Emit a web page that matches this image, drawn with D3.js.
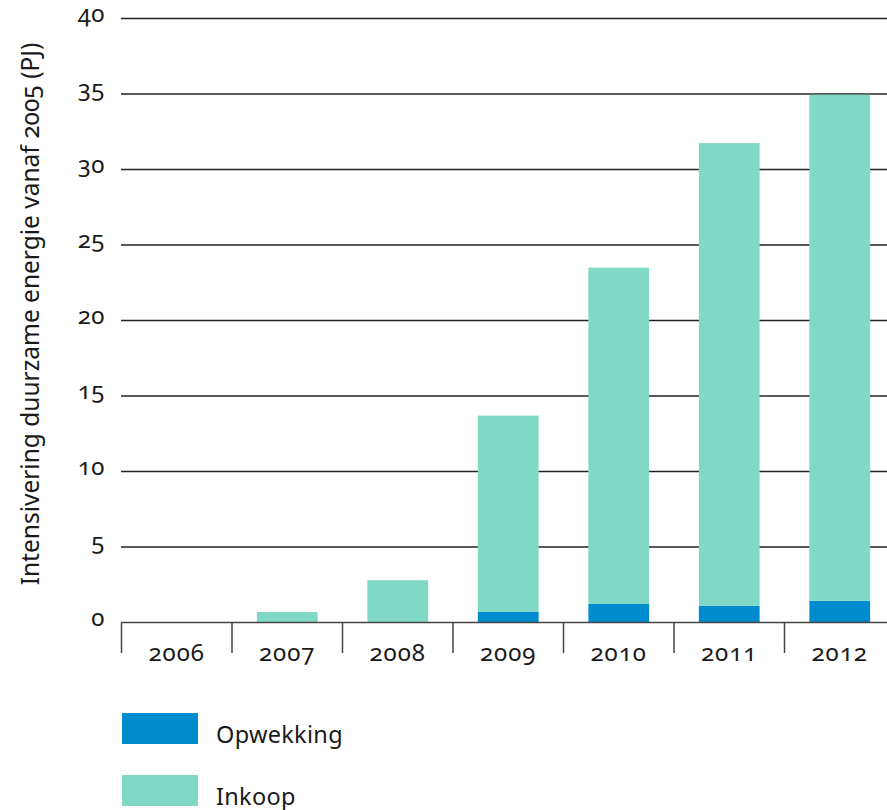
<!DOCTYPE html>
<html>
<head>
<meta charset="utf-8">
<script src="https://cdn.jsdelivr.net/npm/d3@7"></script>
<style>
    body { margin: 0; background: #fff; }
    svg text { font-family: "Noto Sans", "Open Sans", sans-serif; fill: #1a1a1a; font-feature-settings: "onum" 1; }
</style>
</head>
<body>
<svg width="887" height="810"></svg>
<script>
var years = ['2006', '2007', '2008', '2009', '2010', '2011', '2012'];
var opwekking = [0, 0, 0, 0.7, 1.23, 1.1, 1.43];
var inkoop = [0, 0.7, 2.8, 13.0, 22.27, 30.65, 33.52];
var yTicks = [0, 5, 10, 15, 20, 25, 30, 35, 40];
var seriesNames = ['Opwekking', 'Inkoop'];
var colors = ['#008bcf', '#80d9c5'];

(function() {
    var svg = d3.select('svg');

    var x = d3.scaleBand()
        .domain(years)
        .range([121.5, 895])
        .paddingInner(0.45)
        .paddingOuter(0.225);

    var y = d3.scaleLinear()
        .domain([0, 40])
        .range([622.5, 18.5]);

    // grid lines
    svg.append('g')
        .selectAll('line')
        .data(yTicks.filter(function(d) { return d > 0; }))
        .enter()
        .append('line')
        .attr('x1', 121)
        .attr('x2', 887)
        .attr('y1', function(d) { return y(d); })
        .attr('y2', function(d) { return y(d); })
        .attr('stroke', '#222')
        .attr('stroke-width', 1.3);

    // y labels
    svg.append('g')
        .selectAll('text')
        .data(yTicks)
        .enter()
        .append('text')
        .attr('x', 105)
        .attr('y', function(d) { return y(d) + 3; })
        .attr('text-anchor', 'end')
        .style('font-size', '24px')
        .style('letter-spacing', '0.5px')
        .text(function(d) { return d; });

    // stacked bars
    var rows = years.map(function(yr, i) {
        return { year: yr, Opwekking: opwekking[i], Inkoop: inkoop[i] };
    });
    var stack = d3.stack().keys(seriesNames)(rows);

    svg.append('g')
        .selectAll('g')
        .data(stack)
        .enter()
        .append('g')
        .attr('fill', function(d, i) { return colors[i]; })
        .selectAll('rect')
        .data(function(d) { return d; })
        .enter()
        .append('rect')
        .attr('x', function(d) { return x(d.data.year); })
        .attr('width', x.bandwidth())
        .attr('y', function(d) { return y(d[1]); })
        .attr('height', function(d) { return y(d[0]) - y(d[1]); });

    // baseline and separators
    svg.append('line')
        .attr('x1', 121).attr('x2', 887)
        .attr('y1', y(0)).attr('y2', y(0))
        .attr('stroke', '#444').attr('stroke-width', 1.5);

    var step = x.step();
    svg.append('g')
        .selectAll('line')
        .data(years)
        .enter()
        .append('line')
        .attr('x1', function(d) { return x(d) - x.paddingInner() * step / 2; })
        .attr('x2', function(d) { return x(d) - x.paddingInner() * step / 2; })
        .attr('y1', y(0))
        .attr('y2', 653)
        .attr('stroke', '#444')
        .attr('stroke-width', 1.5);

    svg.append('g')
        .selectAll('text')
        .data(years)
        .enter()
        .append('text')
        .attr('x', function(d) { return x(d) + x.bandwidth() / 2; })
        .attr('y', 661)
        .attr('text-anchor', 'middle')
        .style('font-size', '24px')
        .style('letter-spacing', '1px')
        .text(function(d) { return d; });

    // axis title
    svg.append('text')
        .attr('transform', 'translate(39,314) rotate(-90)')
        .attr('text-anchor', 'middle')
        .style('font-size', '24.5px')
        .text('Intensivering duurzame energie vanaf 2005 (PJ)');

    // legend
    var legend = svg.append('g')
        .selectAll('g')
        .data(seriesNames)
        .enter()
        .append('g')
        .attr('transform', function(d, i) { return 'translate(122,' + (713 + i * 62) + ')'; });

    legend.append('rect')
        .attr('width', 76)
        .attr('height', 31)
        .attr('fill', function(d, i) { return colors[i]; });

    legend.append('text')
        .attr('x', 94)
        .attr('y', 30)
        .style('font-size', '23.5px')
        .style('letter-spacing', '0.3px')
        .text(function(d) { return d; });
})();
</script>
</body>
</html>
